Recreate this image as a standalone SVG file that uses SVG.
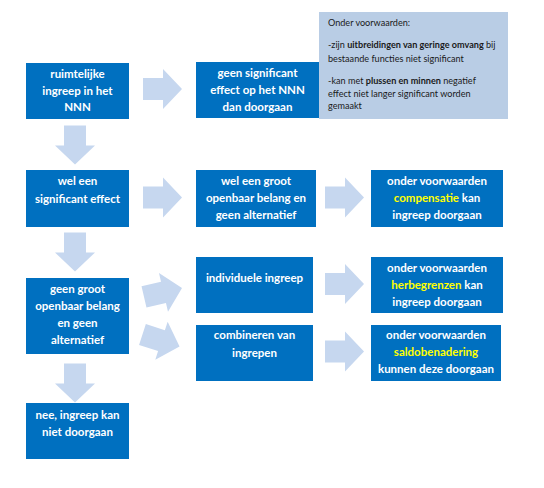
<svg xmlns="http://www.w3.org/2000/svg" xmlns:xlink="http://www.w3.org/1999/xlink" width="544" height="488" viewBox="0 0 544 488">
<style>
.box{fill:#0070c0}
.arrow{fill:#c6d7ef}
.t{font-family:Lato,"Open Sans","Liberation Sans",sans-serif;font-weight:bold;font-size:11.5px;fill:#ffffff;text-anchor:middle}
.y{fill:#ffff00}
.note{fill:#b9cde5}
.n{font-family:Lato,"Open Sans","Liberation Sans",sans-serif;font-size:9.1px;fill:#1a1a1a}
.b{font-weight:bold}
</style>
<defs>
<polygon id="ar" points="-19.5,-11 0.5,-11 0.5,-20 19.5,0 0.5,20 0.5,11 -19.5,11"/>
</defs>
<rect width="544" height="488" fill="#ffffff"/>
<g id="connectors" class="arrow">
<use xlink:href="#ar" transform="translate(162.5,89)"/>
<use xlink:href="#ar" transform="translate(162.5,197.5)"/>
<use xlink:href="#ar" transform="translate(344.5,197.5)"/>
<use xlink:href="#ar" transform="translate(344.5,284)"/>
<use xlink:href="#ar" transform="translate(344.5,351.5)"/>
<use xlink:href="#ar" transform="translate(163,292.5) rotate(-13)"/>
<use xlink:href="#ar" transform="translate(161,340.5) rotate(18)"/>
<use xlink:href="#ar" transform="translate(75,145) rotate(90)"/>
<use xlink:href="#ar" transform="translate(75,252) rotate(90)"/>
<use xlink:href="#ar" transform="translate(75,383) rotate(90)"/>
</g>
<g id="n1"><rect class="box" x="26" y="63" width="103" height="56"/>
<text class="t" x="77.5" y="78">ruimtelijke</text><text class="t" x="77.5" y="95">ingreep in het</text><text class="t" x="77.5" y="111">NNN</text></g>
<g id="n2"><rect class="box" x="196" y="62" width="124" height="56"/>
<text class="t" x="257.5" y="77">geen significant</text><text class="t" x="257.5" y="94">effect op het NNN</text><text class="t" x="257.5" y="111">dan doorgaan</text></g>
<g id="note"><rect class="note" x="319" y="12" width="189" height="107"/>
<text class="n" x="328" y="26">Onder voorwaarden:</text>
<text class="n" x="328" y="48">-zijn <tspan class="b">uitbreidingen van geringe omvang</tspan> bij</text>
<text class="n" x="328" y="62">bestaande functies niet significant</text>
<text class="n" x="328" y="84">-kan met <tspan class="b">plussen en minnen</tspan> negatief</text>
<text class="n" x="328" y="97">effect niet langer significant worden</text>
<text class="n" x="328" y="109">gemaakt</text></g>
<g id="n3"><rect class="box" x="26" y="170" width="103" height="57"/>
<text class="t" x="77.5" y="185">wel een</text><text class="t" x="77.5" y="203">significant effect</text></g>
<g id="n4"><rect class="box" x="196" y="170" width="120" height="57"/>
<text class="t" x="256" y="185">wel een groot</text><text class="t" x="256" y="202">openbaar belang en</text><text class="t" x="256" y="219">geen alternatief</text></g>
<g id="n5"><rect class="box" x="371" y="170" width="132" height="57"/>
<text class="t" x="437" y="185">onder voorwaarden</text><text class="t" x="437" y="202"><tspan class="y">compensatie</tspan> kan</text><text class="t" x="437" y="219">ingreep doorgaan</text></g>
<g id="n6"><rect class="box" x="26" y="278" width="103" height="76"/>
<text class="t" x="77.5" y="293">geen groot</text><text class="t" x="77.5" y="310">openbaar belang</text><text class="t" x="77.5" y="327">en geen</text><text class="t" x="77.5" y="344">alternatief</text></g>
<g id="n7"><rect class="box" x="196" y="257" width="117" height="56"/>
<text class="t" x="254.5" y="282">individuele ingreep</text></g>
<g id="n8"><rect class="box" x="371" y="257" width="132" height="56"/>
<text class="t" x="437" y="272">onder voorwaarden</text><text class="t" x="437" y="289"><tspan class="y">herbegrenzen</tspan> kan</text><text class="t" x="437" y="306">ingreep doorgaan</text></g>
<g id="n9"><rect class="box" x="196" y="325" width="117" height="56"/>
<text class="t" x="254.5" y="339">combineren van</text><text class="t" x="254.5" y="357">ingrepen</text></g>
<g id="n10"><rect class="box" x="371" y="325" width="130" height="56"/>
<text class="t" x="436" y="339">onder voorwaarden</text><text class="t" x="436" y="356"><tspan class="y">saldobenadering</tspan></text><text class="t" x="436" y="373">kunnen deze doorgaan</text></g>
<g id="n11"><rect class="box" x="26" y="403" width="103" height="56"/>
<text class="t" x="77.5" y="419">nee, ingreep kan</text><text class="t" x="77.5" y="436">niet doorgaan</text></g>
</svg>
